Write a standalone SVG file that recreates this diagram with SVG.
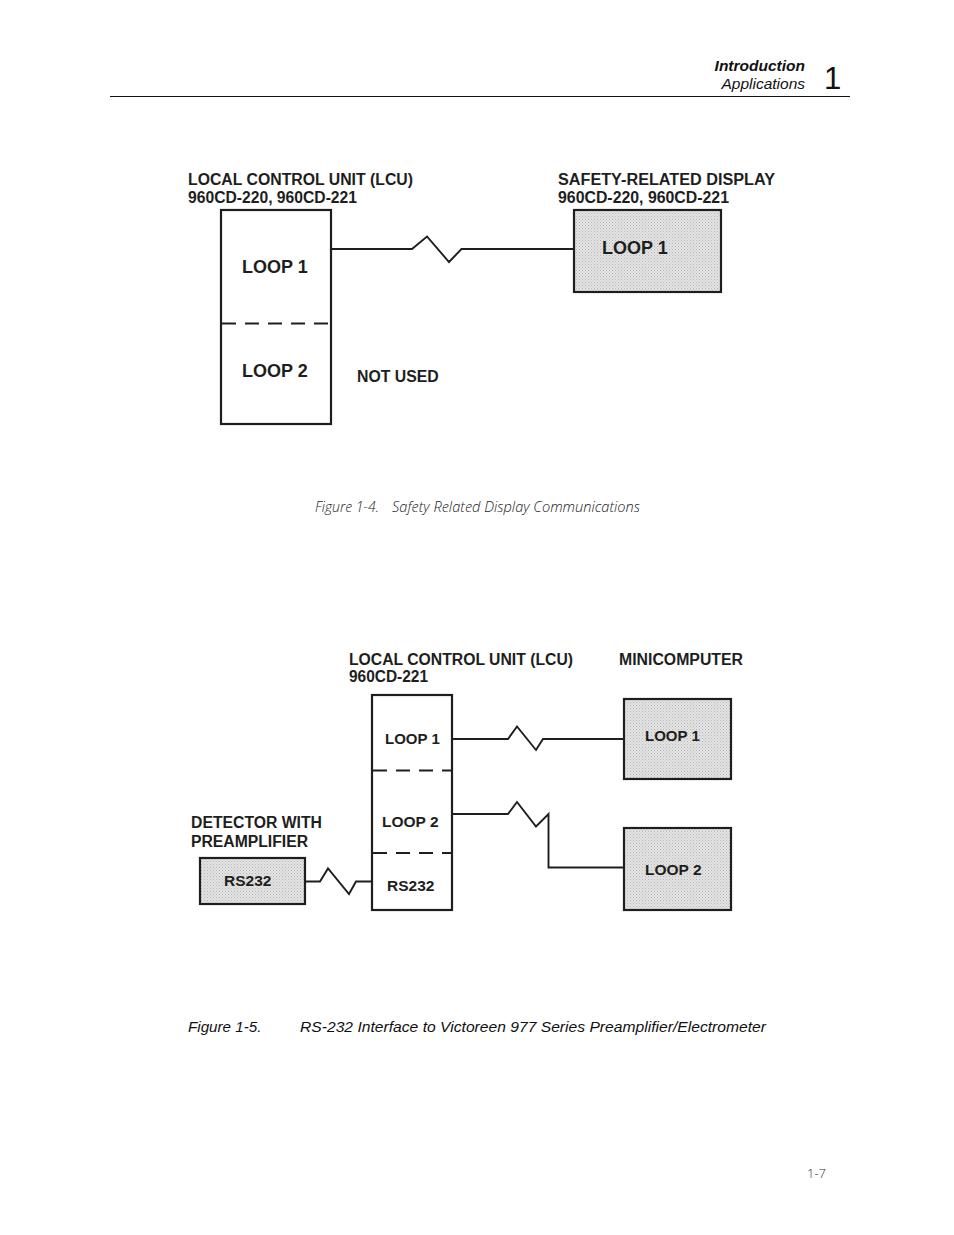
<svg xmlns="http://www.w3.org/2000/svg" width="954" height="1235" viewBox="0 0 954 1235">
<defs>
<pattern id="stip" width="3" height="3" patternUnits="userSpaceOnUse">
<rect width="3" height="3" fill="#e4e4e4"/>
<rect x="0" y="0" width="1" height="1" fill="#b4b4b4"/>
<rect x="1.5" y="1.5" width="1" height="1" fill="#c2c2c2"/>
</pattern>
<style>
.box{fill:#fff;stroke:#1e1e1e;stroke-width:2.2}
.sh{fill:url(#stip);stroke:#1e1e1e;stroke-width:2.2}
.dash{stroke:#1e1e1e;stroke-width:2.2;stroke-dasharray:14 9;fill:none}
.wire{fill:none;stroke:#1e1e1e;stroke-width:1.9;stroke-linejoin:miter}
.lbl{font-family:"Liberation Sans",Arial,sans-serif;font-weight:bold;fill:#1e1e1e}
.t{font-size:15.8px}
.cap{font-family:"Open Sans",sans-serif;font-style:italic;font-weight:300;font-size:14px;fill:#222}
.cap2{font-family:"Liberation Sans",Arial,sans-serif;font-style:italic;font-size:15.2px;fill:#111}
.hdr{font-family:"Liberation Sans",Arial,sans-serif;font-style:italic;font-size:15.5px;fill:#111}
</style>
</defs>
<rect width="954" height="1235" fill="#fff"/>

<g id="header">
<text class="hdr" x="805" y="71" text-anchor="end" font-weight="bold">Introduction</text>
<text class="hdr" x="805" y="89" text-anchor="end">Applications</text>
<text x="824" y="89" font-family="Liberation Sans,Arial,sans-serif" font-size="31" fill="#111">1</text>
<line x1="110" y1="96.5" x2="850" y2="96.5" stroke="#111" stroke-width="1"/>
</g>

<!-- Figure 1-4 -->
<g id="fig1-lcu">
<text class="lbl t" x="188" y="185" textLength="225" lengthAdjust="spacingAndGlyphs">LOCAL CONTROL UNIT (LCU)</text>
<text class="lbl t" x="188" y="203" textLength="169" lengthAdjust="spacingAndGlyphs">960CD-220, 960CD-221</text>
<rect class="box" x="221" y="210" width="110" height="214"/>
<line class="dash" x1="222" y1="323.5" x2="331" y2="323.5"/>
<text class="lbl" x="242" y="273" font-size="18">LOOP 1</text>
<text class="lbl" x="242" y="377" font-size="18">LOOP 2</text>
</g>
<g id="fig1-display">
<text class="lbl t" x="558" y="185" textLength="217" lengthAdjust="spacingAndGlyphs">SAFETY-RELATED DISPLAY</text>
<text class="lbl t" x="558" y="203" textLength="171" lengthAdjust="spacingAndGlyphs">960CD-220, 960CD-221</text>
<rect class="sh" x="574" y="210" width="147" height="82"/>
<text class="lbl" x="602" y="254" font-size="18">LOOP 1</text>
</g>
<g id="fig1-notused">
<text class="lbl t" x="357" y="382">NOT USED</text>
</g>
<g id="fig1-connectors">
<path class="wire" d="M331,249 H412 L427,236.5 L449,262 L461.5,249 H574"/>
</g>
<text class="cap" x="315" y="512">Figure 1-4.</text>
<text class="cap" x="392" y="512" textLength="248" lengthAdjust="spacingAndGlyphs">Safety Related Display Communications</text>

<!-- Figure 1-5 -->
<g id="fig2-lcu">
<text class="lbl t" x="349" y="665" textLength="224" lengthAdjust="spacingAndGlyphs">LOCAL CONTROL UNIT (LCU)</text>
<text class="lbl t" x="349" y="682" textLength="79" lengthAdjust="spacingAndGlyphs">960CD-221</text>
<rect class="box" x="372" y="695" width="80" height="215"/>
<line class="dash" x1="373" y1="770.5" x2="452" y2="770.5" stroke-dasharray="13 9"/>
<line class="dash" x1="373" y1="853" x2="452" y2="853" stroke-dasharray="13 9"/>
<text class="lbl" x="385" y="744" font-size="15">LOOP 1</text>
<text class="lbl" x="382" y="826.5" font-size="15.5">LOOP 2</text>
<text class="lbl" x="387" y="890.5" font-size="15.5">RS232</text>
</g>
<g id="fig2-mini">
<text class="lbl t" x="619" y="665" textLength="124" lengthAdjust="spacingAndGlyphs">MINICOMPUTER</text>
<rect class="sh" x="624" y="699" width="107" height="80"/>
<text class="lbl" x="645" y="741" font-size="15">LOOP 1</text>
<rect class="sh" x="624" y="828" width="107" height="82"/>
<text class="lbl" x="645" y="875" font-size="15.5">LOOP 2</text>
</g>
<g id="fig2-detector">
<text class="lbl t" x="191" y="828" textLength="131" lengthAdjust="spacingAndGlyphs">DETECTOR WITH</text>
<text class="lbl t" x="191" y="847" textLength="117" lengthAdjust="spacingAndGlyphs">PREAMPLIFIER</text>
<rect class="sh" x="200" y="858" width="105" height="46"/>
<text class="lbl" x="224" y="886" font-size="15.5">RS232</text>
</g>
<g id="fig2-connectors">
<path class="wire" d="M452,739 H508 L517,726.5 L536,750 L543,739 H624"/>
<path class="wire" d="M452,814 H508 L517,802 L536,826.5 L548.5,814 V867.5 H624"/>
<path class="wire" d="M305,881.5 H320 L328,868.5 L349,894 L356,881.5 H372"/>
</g>
<text class="cap2" x="188" y="1032">Figure 1-5.</text>
<text class="cap2" x="300" y="1032" textLength="466" lengthAdjust="spacingAndGlyphs">RS-232 Interface to Victoreen 977 Series Preamplifier/Electrometer</text>

<text x="826" y="1178" text-anchor="end" font-family="Open Sans,sans-serif" font-weight="300" font-size="13" fill="#333">1-7</text>
</svg>
